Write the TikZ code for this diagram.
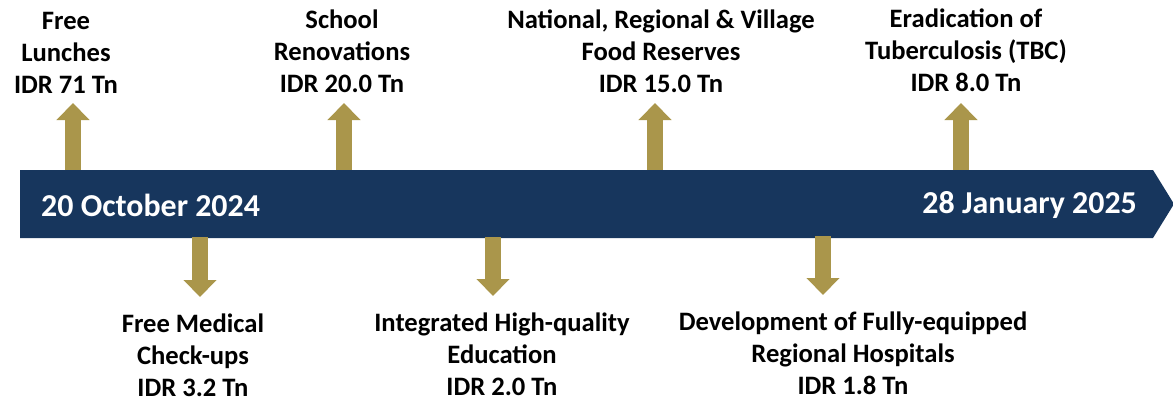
\documentclass[tikz,border=0pt]{standalone}
\usepackage{fontspec}
\setmainfont{Carlito}
\usetikzlibrary{arrows.meta}
\definecolor{navy}{RGB}{23,54,93}
\definecolor{gold}{RGB}{170,150,75}
\tikzset{
  lbl/.style={align=center, font=\bfseries\fontsize{26.6}{32}\selectfont, inner sep=0pt, text=black},
  datelbl/.style={font=\bfseries\fontsize{31.9}{31.9}\selectfont, text=white, inner sep=0pt},
  goldarrow/.style={draw=gold, line width=16pt, line cap=butt, -{Triangle[width=32pt,length=17pt]}},
}
\begin{document}
\begin{tikzpicture}[x=1pt,y=-1pt]
\useasboundingbox (0,0) rectangle (1173,402);
% banner
\fill[navy] (20,170) -- (1153,170) -- (1174,204) -- (1153,238) -- (20,238) -- cycle;
\node[datelbl, anchor=base west] (d1) at (41,216) {20 October 2024};
\node[datelbl, anchor=base east] (d2) at (1137,213) {28 January 2025};
% labels
\node[lbl] (l1) at (66,53) {Free\\Lunches\\IDR 71 Tn};
\node[lbl] (l2) at (342,51) {School\\Renovations\\IDR 20.0 Tn};
\node[lbl] (l3) at (661,51) {National, Regional \& Village\\Food Reserves\\IDR 15.0 Tn};
\node[lbl] (l4) at (966,50) {Eradication of\\Tuberculosis (TBC)\\IDR 8.0 Tn};
\node[lbl] (l5) at (193,355) {Free Medical\\Check-ups\\IDR 3.2 Tn};
\node[lbl] (l6) at (502,354) {Integrated High-quality\\Education\\IDR 2.0 Tn};
\node[lbl] (l7) at (853,353) {Development of Fully-equipped\\Regional Hospitals\\IDR 1.8 Tn};
% arrow ends
\coordinate (a1s) at (73,170);  \coordinate (a1e) at (73,103);
\coordinate (a2s) at (344,170); \coordinate (a2e) at (344,103);
\coordinate (a3s) at (655,170); \coordinate (a3e) at (655,103);
\coordinate (a4s) at (961,170); \coordinate (a4e) at (961,103);
\coordinate (a5s) at (200,237); \coordinate (a5e) at (200,297);
\coordinate (a6s) at (493,237); \coordinate (a6e) at (493,296);
\coordinate (a7s) at (823,236); \coordinate (a7e) at (823,295);
\foreach \i in {1,...,7} {\draw[goldarrow] (a\i s) -- (a\i e);}
\end{tikzpicture}
\end{document}
